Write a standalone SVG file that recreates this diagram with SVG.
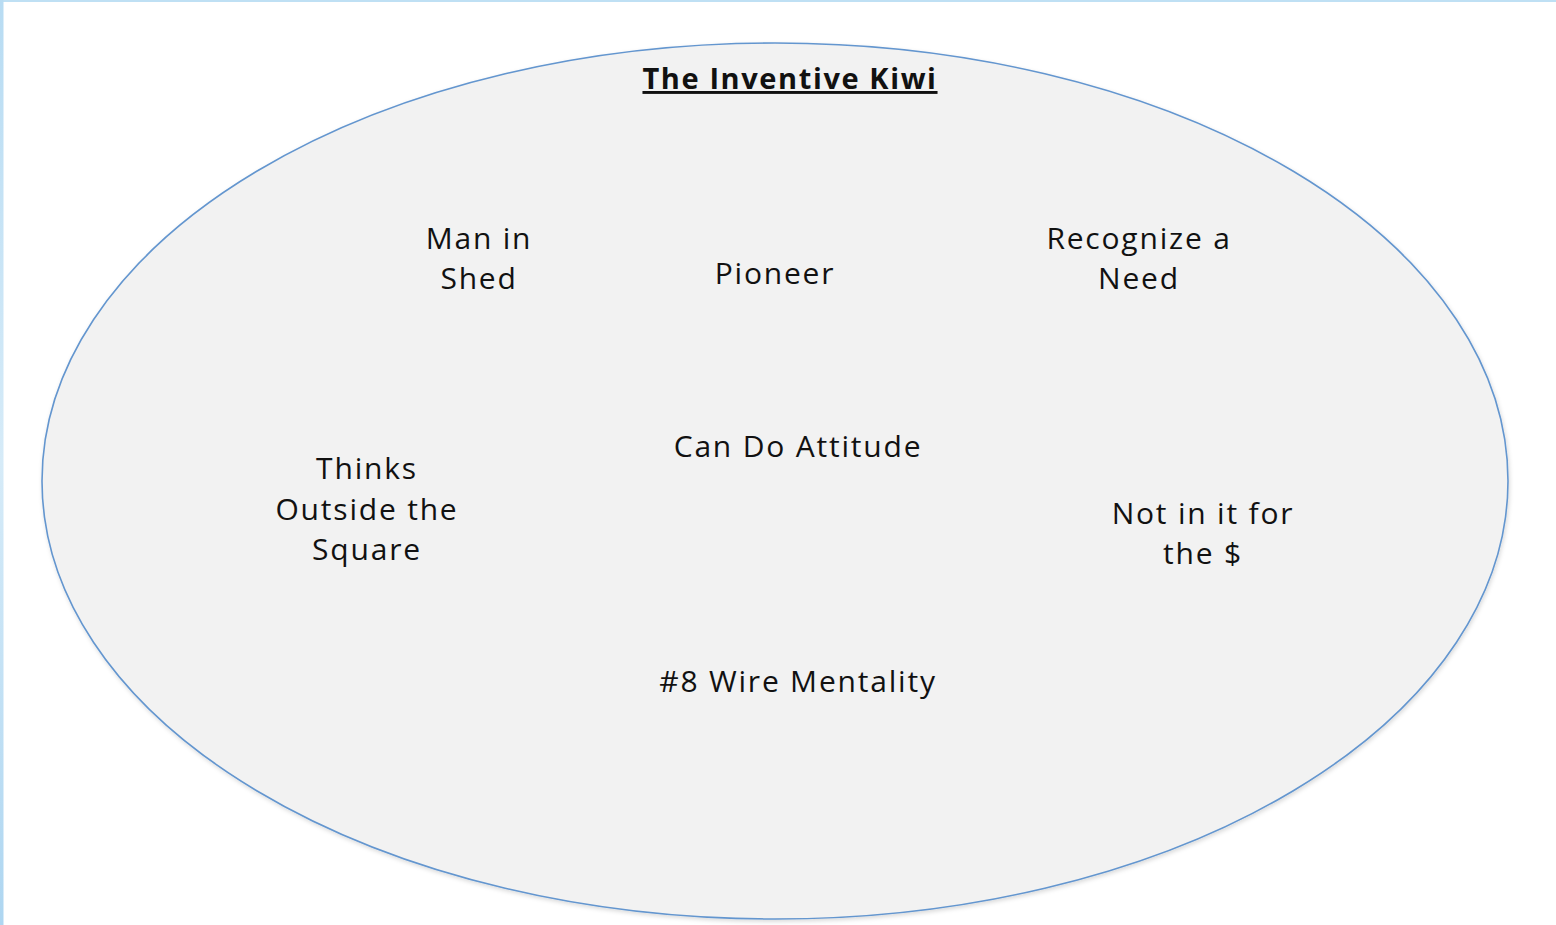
<svg xmlns="http://www.w3.org/2000/svg" width="1556" height="925" viewBox="0 0 1556 925">
  <defs>
    <linearGradient id="edgeV" x1="0" y1="0" x2="0" y2="1">
      <stop offset="0" stop-color="#b8dcf3"/>
      <stop offset="0.5" stop-color="#d6ebf8"/>
      <stop offset="1" stop-color="#aed6f1"/>
    </linearGradient>
    <filter id="soft" x="-5%" y="-5%" width="110%" height="110%">
      <feDropShadow dx="1" dy="2" stdDeviation="2" flood-color="#000" flood-opacity="0.15"/>
    </filter>
  </defs>
  <style>
    .lbl { font-family: "Open Sans", "Liberation Sans", sans-serif; font-size: 30px; fill: #111; text-anchor: middle; letter-spacing: 1.8px; }
    .title { font-family: "Open Sans", "Liberation Sans", sans-serif; font-size: 29px; font-weight: bold; fill: #111; text-anchor: middle; text-decoration: underline; letter-spacing: 1.6px; }
  </style>

  <!-- page background and frame edges -->
  <rect width="1556" height="925" fill="#ffffff"/>
  <rect x="0" y="0" width="1556" height="2" fill="#bfe0f4"/>
  <rect x="0" y="0" width="3.5" height="925" fill="url(#edgeV)"/>

  <!-- main ellipse -->
  <g id="frame">
    <ellipse cx="775" cy="481" rx="733" ry="438" fill="#f2f2f2" stroke="#6496cf" stroke-width="1.6" filter="url(#soft)"/>
  </g>

  <g id="title">
    <text class="title" x="790" y="89">The Inventive Kiwi</text>
  </g>

  <g id="man-in-shed">
    <text class="lbl" x="479" y="249">Man in</text>
    <text class="lbl" x="479" y="289">Shed</text>
  </g>

  <g id="pioneer">
    <text class="lbl" x="775" y="284">Pioneer</text>
  </g>

  <g id="recognize-need">
    <text class="lbl" x="1139" y="249">Recognize a</text>
    <text class="lbl" x="1139" y="289">Need</text>
  </g>

  <g id="can-do">
    <text class="lbl" x="798" y="457">Can Do Attitude</text>
  </g>

  <g id="thinks-outside">
    <text class="lbl" x="367" y="479">Thinks</text>
    <text class="lbl" x="367" y="520">Outside the</text>
    <text class="lbl" x="367" y="560">Square</text>
  </g>

  <g id="not-for-money">
    <text class="lbl" x="1203" y="524">Not in it for</text>
    <text class="lbl" x="1203" y="564">the $</text>
  </g>

  <g id="wire-mentality">
    <text class="lbl" x="798" y="692">#8 Wire Mentality</text>
  </g>

  <g id="connectors"/>
</svg>
